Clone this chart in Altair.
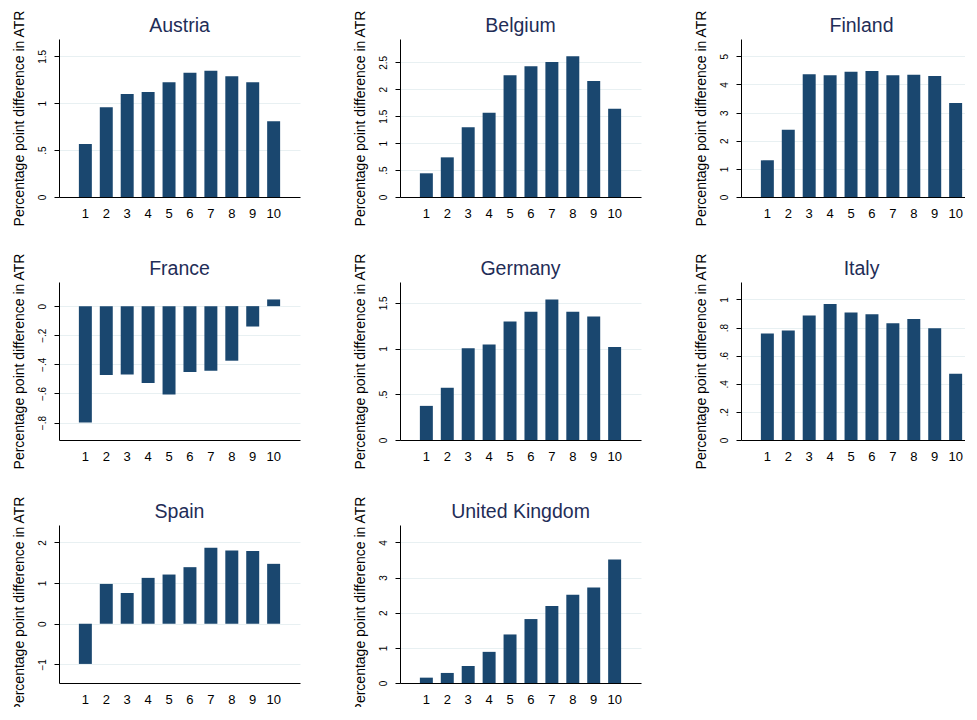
import altair as alt
import pandas as pd

countries = ["Austria", "Belgium", "Finland", "France", "Germany", "Italy", "Spain", "United Kingdom"]
deciles = list(range(1, 11))

austria = [0.565, 0.956, 1.098, 1.120, 1.223, 1.326, 1.347, 1.287, 1.223, 0.807]
belgium = [0.440, 0.736, 1.293, 1.566, 2.259, 2.426, 2.506, 2.611, 2.153, 1.640]
finland = [1.303, 2.393, 4.360, 4.325, 4.455, 4.479, 4.325, 4.348, 4.301, 3.341]
france = [-0.800, -0.474, -0.469, -0.529, -0.607, -0.453, -0.444, -0.375, -0.140, 0.046]
germany = [0.373, 0.571, 1.003, 1.043, 1.295, 1.401, 1.537, 1.401, 1.350, 1.017]
italy = [0.757, 0.779, 0.886, 0.967, 0.907, 0.895, 0.831, 0.860, 0.795, 0.471]
spain = [-0.988, 0.979, 0.757, 1.128, 1.210, 1.391, 1.868, 1.802, 1.786, 1.473]
uk = [0.152, 0.286, 0.486, 0.886, 1.381, 1.819, 2.190, 2.514, 2.714, 3.514]

series = [austria, belgium, finland, france, germany, italy, spain, uk]

y_domains = [
    [0, 1.685], [0, 2.933], [0, 5.616],
    [-0.92, 0.166], [0, 1.727], [0, 1.124],
    [-1.457, 2.428], [0, 4.495],
]
y_ticks = [
    [0, 0.5, 1, 1.5],
    [0, 0.5, 1, 1.5, 2, 2.5],
    [0, 1, 2, 3, 4, 5],
    [-0.8, -0.6, -0.4, -0.2, 0],
    [0, 0.5, 1, 1.5],
    [0, 0.2, 0.4, 0.6, 0.8, 1],
    [-1, 0, 1, 2],
    [0, 1, 2, 3, 4],
]

y_title = "Percentage point difference in ATR"
BAR = "#1a476f"
FONT = "Liberation Sans"
W, H = 241, 158


def panel(name, values, dom, ticks):
    df = pd.DataFrame({"decile": deciles, "value": values})
    bars = (
        alt.Chart(df)
        .mark_bar(color=BAR)
        .encode(
            x=alt.X(
                "decile:O",
                sort=deciles,
                scale=alt.Scale(paddingInner=0.38, paddingOuter=0.95),
                axis=alt.Axis(
                    title=None, labelAngle=0, ticks=False, grid=False,
                    labelFontSize=13, labelPadding=10, labelColor="#000",
                    domainColor="#000", domainWidth=1,
                ),
            ),
            y=alt.Y(
                "value:Q",
                scale=alt.Scale(domain=dom, nice=False, zero=False),
                axis=alt.Axis(
                    title=y_title, values=ticks,
                    labelExpr="replace(format(datum.value, '~g'), '0.', '.')",
                    labelAngle=270, labelAlign="center", labelBaseline="bottom",
                    labelFontSize=10, labelPadding=7, labelColor="#000",
                    tickSize=5, tickColor="#000",
                    domainColor="#000", domainWidth=1,
                    grid=True, gridColor="#e8f0f2", gridWidth=1,
                    titleFontSize=14, titleFontWeight="normal", titleColor="#000",
                    titlePadding=11,
                ),
            ),
            y2=alt.datum(0),
        )
    )
    title = (
        alt.Chart(pd.DataFrame({"country": [name]}))
        .mark_text(fontSize=19.5, color="#1f2d57", align="center", baseline="alphabetic", font=FONT)
        .encode(x=alt.value(W / 2), y=alt.value(-7), text="country:N")
    )
    return alt.layer(bars, title).properties(width=W, height=H)


panels = [panel(c, s, d, t) for c, s, d, t in zip(countries, series, y_domains, y_ticks)]

chart = (
    alt.concat(*panels, columns=3, spacing={"row": 85, "column": 100}, bounds="flush")
    .properties(padding={"left": 3, "top": 1, "right": -17, "bottom": -6})
    .configure(font=FONT)
    .configure_view(stroke=None)
)

chart.save("out.html", embed_options={"renderer": "svg", "actions": False})
